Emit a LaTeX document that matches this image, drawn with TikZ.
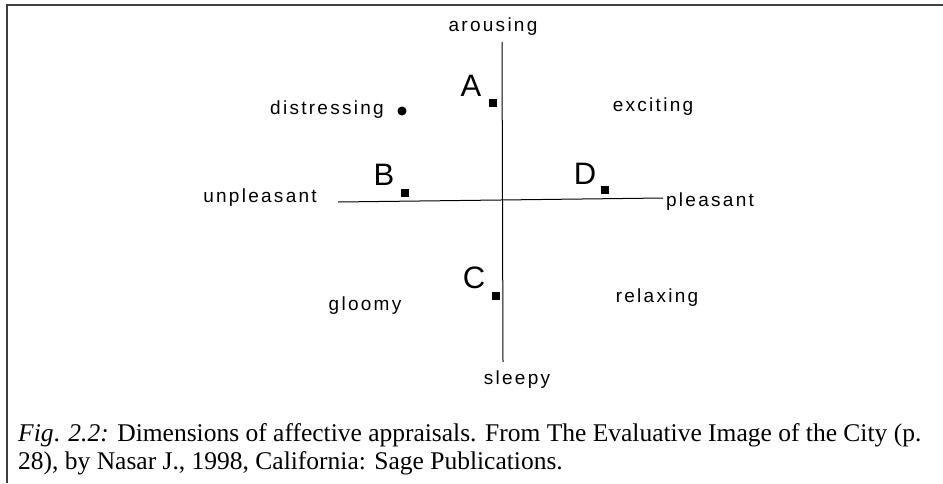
\documentclass[tikz,border=0pt]{standalone}
\usepackage{fontspec}
\setmainfont{Liberation Serif}
\newfontfamily\quadfont{Liberation Sans}[LetterSpace=12]
\newfontfamily\letterfont{Liberation Sans}

\begin{document}
\begin{tikzpicture}[x=1pt, y=-1pt,
  quadlabel/.style={font=\quadfont\fontsize{19}{21}\selectfont, inner sep=0pt},
  ptletter/.style={font=\letterfont\fontsize{31}{33}\selectfont, inner sep=0pt},
  ptmark/.style={fill=black, minimum size=8pt, inner sep=0pt},
  ptdot/.style={circle, fill=black, minimum size=9pt, inner sep=0pt},
  axisline/.style={draw, line width=1pt},
  framerule/.style={draw=black!75, line width=1.5pt},
  captiontext/.style={font=\fontsize{25.5}{28}\selectfont, align=left, inner sep=0pt},
]
  \useasboundingbox (0,0) rectangle (943,483);
  % frame
  \coordinate (frameBL) at (7,483);
  \coordinate (frameTL) at (7,5);
  \coordinate (frameTR) at (943,5);
  \draw[framerule] (frameBL) -- (frameTL) -- (frameTR);
  % axes
  \coordinate (axisN) at (502,42);
  \coordinate (axisS) at (503,362);
  \coordinate (axisW) at (338,202);
  \coordinate (axisE) at (663,198);
  \draw[axisline] (axisN) -- (axisS);
  \draw[axisline] (axisW) -- (axisE);
  % axis labels
  \node[quadlabel] (arousing) at (493,27) {arousing};
  \node[quadlabel] (sleepy) at (517,380) {sleepy};
  \node[quadlabel] (unpleasant) at (260,198) {unpleasant};
  \node[quadlabel] (pleasant) at (710,202) {pleasant};
  % quadrant labels
  \node[quadlabel] (distressing) at (327,110) {distressing};
  \node[ptdot] (distressdot) at (402,111) {};
  \node[quadlabel] (exciting) at (653,107) {exciting};
  \node[quadlabel] (gloomy) at (365,306) {gloomy};
  \node[quadlabel] (relaxing) at (657,298) {relaxing};
  % points
  \node[ptletter] (lblA) at (471,86) {A};
  \node[ptmark] (ptA) at (493,103) {};
  \node[ptletter] (lblB) at (384,175) {B};
  \node[ptmark] (ptB) at (405,193) {};
  \node[ptletter] (lblC) at (474,278) {C};
  \node[ptmark] (ptC) at (496,296) {};
  \node[ptletter] (lblD) at (585,174) {D};
  \node[ptmark] (ptD) at (605,190) {};
  % caption
  \node[captiontext, anchor=base west] (caption) at (18,469) {\textit{Fig}. \textit{2.2:} Dimensions of affective appraisals. From The Evaluative Image of the City (p.\\28), by Nasar J., 1998, California: Sage Publications.};
\end{tikzpicture}
\end{document}
